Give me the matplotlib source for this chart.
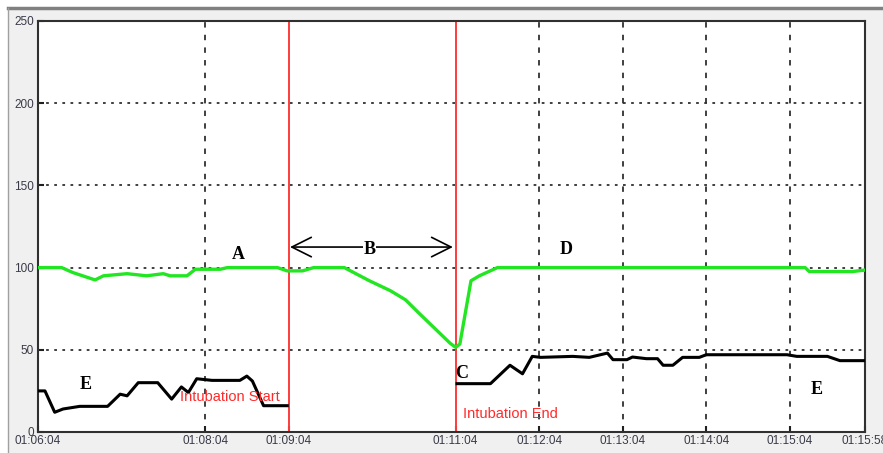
import matplotlib
matplotlib.use("Agg")
import matplotlib.pyplot as plt
from matplotlib import font_manager
from matplotlib.patches import Rectangle

# seconds after 01:06:04
green_t = [0, 17, 25, 41, 47, 64, 78, 90, 95, 107, 113, 131, 136, 172, 179, 190, 198,
           220, 238, 253, 264, 274, 285, 296, 300, 303, 311, 317, 330, 551, 554, 585, 594]
green_v = [100, 100, 97, 92.5, 95, 96.3, 95, 96.3, 95, 95, 99, 99, 100, 100, 98, 98, 100,
           100, 92, 86, 80.4, 72, 63, 54, 51.5, 53.5, 92, 95, 100, 100, 97.6, 97.6, 98.5]

black1_t = [0, 5, 12, 18, 30, 50, 59, 64, 72, 86, 96, 103, 108, 114, 125, 145, 150, 154, 162, 179]
black1_v = [25, 25, 12, 14, 15.6, 15.6, 23, 22, 30, 30, 20, 27.4, 24, 32.4, 31.4, 31.4, 34, 31, 16, 16]

black2_t = [301, 325, 339, 348, 355, 361, 384, 396, 409, 413, 423, 427, 437, 445, 449, 456,
            463, 475, 480, 538, 545, 567, 576, 594]
black2_v = [29.4, 29.4, 40.6, 35.4, 46, 45.4, 46, 45.4, 48, 44, 44, 45.6, 44.6, 44.6, 40.6, 40.6,
            45.4, 45.4, 47, 47, 46, 46, 43.4, 43.4]

tick_pos = [0, 120, 180, 300, 360, 420, 480, 540, 594]
tick_labels = ["01:06:04", "01:08:04", "01:09:04", "01:11:04", "01:12:04",
               "01:13:04", "01:14:04", "01:15:04", "01:15:58"]
grid_x = [120, 360, 420, 480, 540]
intubation_start = 180
intubation_end = 300
y_ticks = [0, 50, 100, 150, 200, 250]

names = {f.name for f in font_manager.fontManager.ttflist}
tick_font = "Liberation Sans Narrow" if "Liberation Sans Narrow" in names else "Liberation Sans"
tick_size = 10 if tick_font == "Liberation Sans Narrow" else 8.5

fig = plt.figure(figsize=(8.83, 4.53), dpi=100)
fig.patch.set_facecolor("white")
# grey window panel behind the plot
fig.patches.append(Rectangle((8 / 883, 0), 1, (453 - 8) / 453, transform=fig.transFigure,
                             facecolor="#f0f0f0", edgecolor="none", zorder=-10))
fig.lines.append(plt.Line2D([8 / 883, 1], [1 - 8 / 453] * 2, transform=fig.transFigure,
                            color="#808080", linewidth=2.5))
fig.lines.append(plt.Line2D([8 / 883] * 2, [0, 1 - 8 / 453], transform=fig.transFigure,
                            color="#a0a0a0", linewidth=1))

ax = fig.add_axes([38 / 883, 21 / 453, (865 - 38) / 883, (432 - 21) / 453])
ax.set_facecolor("white")
ax.set_xlim(0, 594)
ax.set_ylim(0, 250)

for y in y_ticks[1:-1]:
    ax.axhline(y, color="#303030", linestyle=(0, (1.5, 3)), linewidth=1.3, zorder=1)
for x in grid_x:
    ax.axvline(x, color="#303030", linestyle=(0, (3, 4)), linewidth=1.3, zorder=1)
ax.axvline(intubation_start, color="#ff3b3b", linewidth=1.4, zorder=2)
ax.axvline(intubation_end, color="#ff3b3b", linewidth=1.4, zorder=2)

ax.plot(green_t, green_v, color="#22e622", linewidth=2.4, zorder=3)
ax.plot(black1_t, black1_v, color="black", linewidth=2.2, zorder=3)
ax.plot(black2_t, black2_v, color="black", linewidth=2.2, zorder=3)

ax.set_xticks(tick_pos)
ax.set_xticklabels(tick_labels)
ax.set_yticks(y_ticks)
ax.tick_params(direction="in", length=4, width=1.5, color="#202020",
               labelsize=tick_size, labelcolor="#3a3a48")
ax.tick_params(axis="x", pad=2)
ax.tick_params(axis="y", pad=3)
for lab in ax.get_xticklabels() + ax.get_yticklabels():
    lab.set_family(tick_font)
for s in ax.spines.values():
    s.set_color("#303030")
    s.set_linewidth(1.5)

serif = dict(family="Liberation Serif", fontweight="bold", fontsize=13, color="black",
             ha="center", va="center", zorder=4)
ax.text(143.6, 108, "A", **serif)
ax.text(238, 111, "B", bbox=dict(facecolor="white", edgecolor="none", pad=0.5), **serif)
ax.text(304, 35.8, "C", **serif)
ax.text(379, 111, "D", **serif)
ax.text(34, 29, "E", **serif)
ax.text(559, 26, "E", **serif)
ax.annotate("", xy=(181, 112.5), xytext=(298, 112.5),
            arrowprops=dict(arrowstyle="<->,head_length=1.4,head_width=0.7", color="black",
                            linewidth=1.2, shrinkA=0, shrinkB=0), zorder=3)

ax.text(102, 21.4, "Intubation Start", color="#ff2a2a", fontsize=10.5,
        family="Liberation Sans", ha="left", va="center", zorder=4)
ax.text(305, 11, "Intubation End", color="#ff2a2a", fontsize=10.5,
        family="Liberation Sans", ha="left", va="center", zorder=4)

fig.savefig("out.png", dpi=100)
